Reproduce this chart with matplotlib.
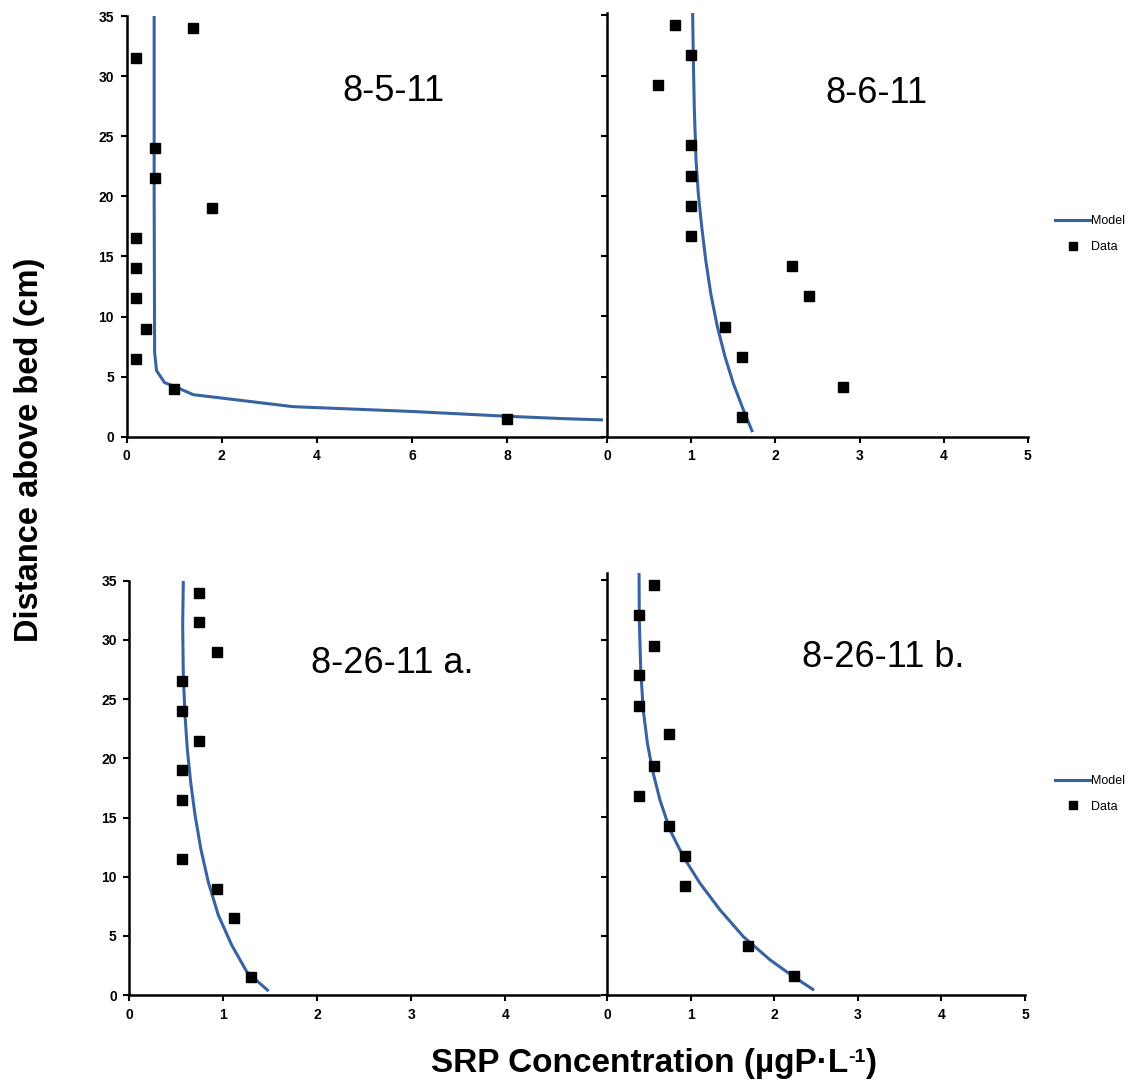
import matplotlib
matplotlib.use("Agg")
import matplotlib.pyplot as plt

plt.rcParams['font.family'] = ['Liberation Sans', 'DejaVu Sans']

MODEL_COLOR = '#3764a0'

# ---- 8-5-11 ----
data_x_805 = [1.4, 0.2, 0.6, 0.6, 1.8, 0.2, 0.2, 0.2, 0.4, 0.2, 1.0, 8.0]
data_y_805 = [34, 31.5, 24, 21.5, 19, 16.5, 14, 11.5, 9, 6.5, 4, 1.5]
model_x_805 = [0.58, 0.58, 0.59, 0.63, 0.8, 1.0, 1.4, 3.5, 6.0, 8.0, 9.2, 10.0]
model_y_805 = [35, 20, 7, 5.5, 4.5, 4.2, 3.5, 2.5, 2.1, 1.7, 1.5, 1.4]

# ---- 8-6-11 ----
data_x_806 = [0.8, 1.0, 0.6, 1.0, 1.0, 1.0, 1.0, 2.2, 2.4, 1.4, 1.6, 2.8, 1.6]
data_y_806 = [34.2, 31.7, 29.2, 24.2, 21.7, 19.2, 16.7, 14.2, 11.7, 9.1, 6.6, 4.1, 1.6]
model_x_806 = [1.015, 1.023, 1.035, 1.055, 1.082, 1.122, 1.17, 1.23, 1.31, 1.40, 1.50, 1.62, 1.72]
model_y_806 = [35.2, 31.3, 27.2, 23.0, 20.2, 17.5, 14.7, 11.9, 9.1, 6.65, 4.4, 2.2, 0.5]

# ---- 8-26-11 a. ----
data_x_826a = [0.74, 0.74, 0.93, 0.56, 0.56, 0.74, 0.56, 0.56, 0.56, 0.93, 1.11, 1.3]
data_y_826a = [34, 31.5, 29, 26.5, 24, 21.5, 19, 16.5, 11.5, 9, 6.5, 1.5]
model_x_826a = [0.575, 0.568, 0.575, 0.593, 0.617, 0.653, 0.70, 0.76, 0.84, 0.947, 1.09, 1.25, 1.47]
model_y_826a = [35.0, 31.25, 27.0, 23.65, 20.8, 18.0, 15.2, 12.4, 9.57, 6.76, 4.22, 1.97, 0.42]

# ---- 8-26-11 b. ----
data_x_826b = [0.56, 0.38, 0.56, 0.38, 0.38, 0.74, 0.56, 0.38, 0.74, 0.93, 0.93, 1.68, 2.23]
data_y_826b = [34.6, 32.1, 29.5, 27.0, 24.4, 22.0, 19.3, 16.8, 14.3, 11.7, 9.2, 4.1, 1.6]
model_x_826b = [0.38, 0.383, 0.40, 0.43, 0.48, 0.54, 0.63, 0.75, 0.91, 1.11, 1.35, 1.63, 1.95, 2.23, 2.46]
model_y_826b = [35.6, 31.7, 27.45, 24.07, 21.26, 19.0, 16.47, 13.94, 11.68, 9.43, 7.18, 4.92, 2.96, 1.55, 0.48]

panel_titles = ['8-5-11', '8-6-11', '8-26-11 a.', '8-26-11 b.']
y_ticks = [0, 5, 10, 15, 20, 25, 30, 35]

fig = plt.figure(figsize=(11.39, 10.85), dpi=100)

ax_tl = fig.add_axes([0.1111, 0.5975, 0.4179, 0.3877])
ax_tr = fig.add_axes([0.5332, 0.5975, 0.3691, 0.3905])
ax_bl = fig.add_axes([0.1135, 0.0829, 0.4126, 0.3818])
ax_br = fig.add_axes([0.5332, 0.0829, 0.3667, 0.3887])

panels = [
    (ax_tl, model_x_805, model_y_805, data_x_805, data_y_805, (0, 10), [0, 2, 4, 6, 8], 35.0),
    (ax_tr, model_x_806, model_y_806, data_x_806, data_y_806, (0, 5), [0, 1, 2, 3, 4, 5], 35.2),
    (ax_bl, model_x_826a, model_y_826a, data_x_826a, data_y_826a, (0, 5), [0, 1, 2, 3, 4], 35.0),
    (ax_br, model_x_826b, model_y_826b, data_x_826b, data_y_826b, (0, 5), [0, 1, 2, 3, 4, 5], 35.6),
]
title_pos = [(0.56, 0.82), (0.64, 0.81), (0.56, 0.80), (0.66, 0.80)]

for i, (ax, mx, my, dx, dy, xlim, xt, ytop) in enumerate(panels):
    ax.plot(mx, my, color=MODEL_COLOR, lw=2.2, label='Model', zorder=2)
    ax.plot(dx, dy, 's', color='black', ms=7.5, ls='none', label='Data', zorder=3)
    ax.set_xlim(*xlim)
    ax.set_ylim(0, ytop)
    ax.set_xticks(xt)
    ax.set_yticks(y_ticks)
    for s in ['top', 'right']:
        ax.spines[s].set_visible(False)
    for s in ['left', 'bottom']:
        ax.spines[s].set_linewidth(1.8)
    ax.tick_params(direction='out', length=4, width=1.5, pad=5)
    for lab in ax.get_xticklabels() + ax.get_yticklabels():
        lab.set_fontweight('bold')
        lab.set_fontsize(10)
    if i in (1, 3):
        ax.set_yticklabels([])
    ax.set_facecolor('none')
    ax.text(title_pos[i][0], title_pos[i][1], panel_titles[i], transform=ax.transAxes,
            ha='center', va='center', fontsize=26)

ax_tr.legend(loc='center left', bbox_to_anchor=(1.065, 0.478), frameon=False,
             borderaxespad=0, borderpad=0, handlelength=2.8, handletextpad=0.05,
             labelspacing=1.1, markerscale=0.78, fontsize=9)
ax_br.legend(loc='center left', bbox_to_anchor=(1.072, 0.477), frameon=False,
             borderaxespad=0, borderpad=0, handlelength=2.8, handletextpad=0.05,
             labelspacing=1.1, markerscale=0.78, fontsize=9)

fig.text(0.0263, 0.585, 'Distance above bed (cm)', rotation=90, ha='center', va='center',
         fontsize=23.5, fontweight='bold')

# x label built from pieces so the superscript keeps a plain hyphen
W, H = 1139, 1085
renderer = fig.canvas.get_renderer()
pieces = [('SRP Concentration (µgP·L', 24, 0), ('-1', 14, 10), (')', 24, 0)]
texts = []
for s, fs, dy in pieces:
    t = fig.text(0, 0, s, fontsize=fs, fontweight='bold', ha='left', va='baseline')
    texts.append((t, dy))
widths = [t.get_window_extent(renderer).width for t, _ in texts]
x = 653.5 - sum(widths) / 2
base_y = 1072
for (t, dy), w in zip(texts, widths):
    t.set_position((x / W, 1 - (base_y - dy) / H))
    x += w

fig.savefig('out.png', dpi=100)
